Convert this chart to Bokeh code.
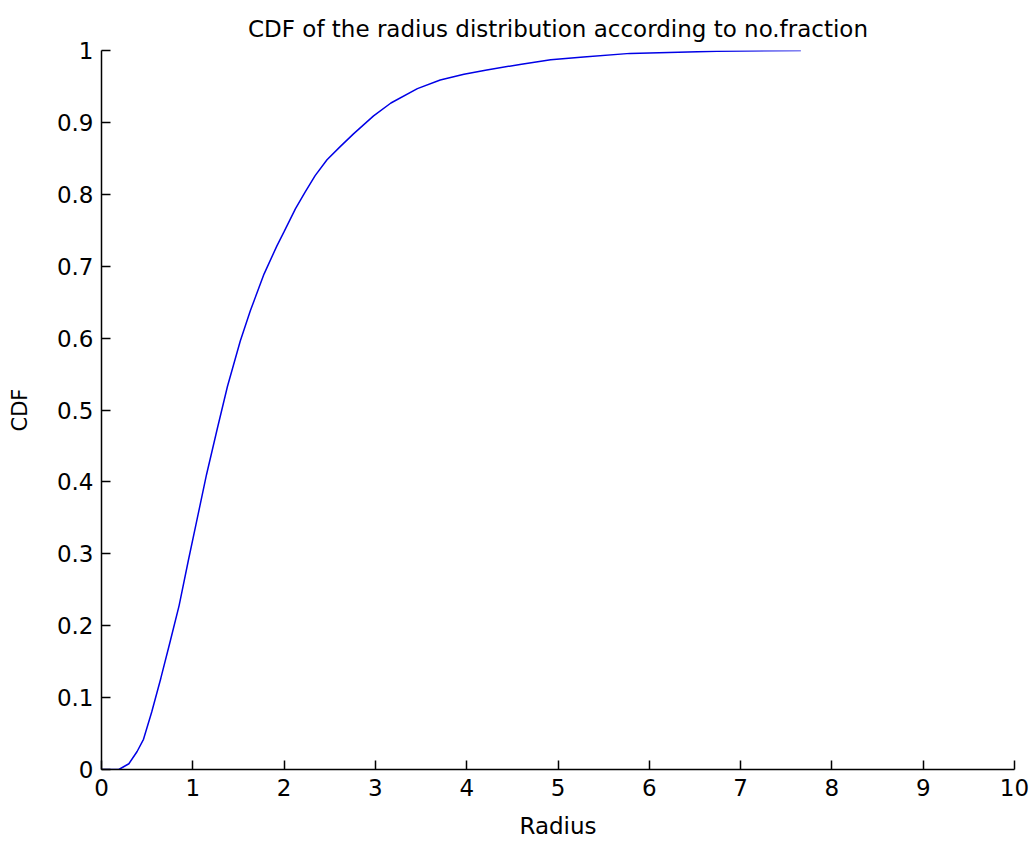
from bokeh.plotting import figure
from bokeh.models import Range1d, FixedTicker, ColumnDataSource
from bokeh.embed import file_html
from bokeh.resources import INLINE

# Data
radius = [0.0, 0.19, 0.30, 0.39, 0.46, 0.55, 0.65, 0.75, 0.85, 0.95, 1.05, 1.15,
          1.27, 1.38, 1.52, 1.63, 1.78, 1.92, 2.0, 2.125, 2.23, 2.34, 2.47, 2.62,
          2.76, 2.98, 3.17, 3.46, 3.71, 3.97, 4.22, 4.6, 4.92, 5.28, 5.79, 6.74, 7.66]
cdf = [0.0, 0.0, 0.008, 0.025, 0.042, 0.080, 0.127, 0.177, 0.228, 0.290, 0.350, 0.410,
       0.475, 0.533, 0.596, 0.638, 0.689, 0.728, 0.748, 0.780, 0.803, 0.826, 0.848, 0.867,
       0.884, 0.909, 0.927, 0.947, 0.959, 0.967, 0.973, 0.981, 0.987, 0.991, 0.996, 0.999, 1.0]

x_ticks = [0, 1, 2, 3, 4, 5, 6, 7, 8, 9, 10]
x_tick_labels = ["0", "1", "2", "3", "4", "5", "6", "7", "8", "9", "10"]
y_ticks = [0, 0.1, 0.2, 0.3, 0.4, 0.5, 0.6, 0.7, 0.8, 0.9, 1]
y_tick_labels = ["0", "0.1", "0.2", "0.3", "0.4", "0.5", "0.6", "0.7", "0.8", "0.9", "1"]

title_text = "CDF of the radius distribution according to no.fraction"
x_label = "Radius"
y_label = "CDF"

FONT = "DejaVu Sans"

p = figure(width=1030, height=848, output_backend="svg", toolbar_location=None,
           x_range=Range1d(0, 10), y_range=Range1d(0, 1),
           title=title_text,
           min_border_left=101, min_border_right=16, min_border_top=50,
           min_border_bottom=79)

p.title.align = "center"
p.title.text_font = FONT
p.title.text_font_size = "23px"
p.title.text_font_style = "normal"
p.title.text_color = "black"
p.title.standoff = 18

p.outline_line_color = None
p.background_fill_color = "white"
p.border_fill_color = "white"
p.xgrid.grid_line_color = None
p.ygrid.grid_line_color = None

src = ColumnDataSource(dict(x=radius, y=cdf))
p.line("x", "y", source=src, line_color="#0000e6", line_width=1.5)

for ax, ticks, labels in ((p.xaxis[0], x_ticks, x_tick_labels),
                          (p.yaxis[0], y_ticks, y_tick_labels)):
    ax.ticker = FixedTicker(ticks=ticks)
    ax.major_label_overrides = {t: l for t, l in zip(ticks, labels)}
    ax.minor_tick_line_color = None
    ax.major_tick_in = 9
    ax.major_tick_out = 0
    ax.axis_line_color = "black"
    ax.axis_line_width = 1.5
    ax.major_tick_line_color = "black"
    ax.major_tick_line_width = 1.5
    ax.major_label_text_font = FONT
    ax.major_label_text_font_size = "23px"
    ax.major_label_text_color = "black"
    ax.axis_label_text_font = FONT
    ax.axis_label_text_font_size = "23px"
    ax.axis_label_text_font_style = "normal"
    ax.axis_label_text_color = "black"

p.yaxis.axis_label_text_font_size = "21px"
p.xaxis.axis_label = x_label
p.yaxis.axis_label = y_label
p.xaxis.major_label_standoff = 9
p.yaxis.major_label_standoff = 8
p.xaxis.axis_label_standoff = 14
p.yaxis.axis_label_standoff = 22

open("out.html", "w").write(file_html(p, INLINE))
